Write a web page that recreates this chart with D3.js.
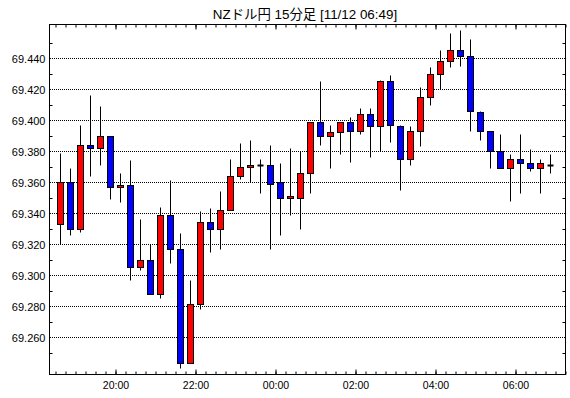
<!DOCTYPE html>
<html>
<head>
<meta charset="utf-8">
<script src="https://d3js.org/d3.v7.min.js"></script>
<style>
  body { margin: 0; background: #fff; }
  text { font-family: "Liberation Sans", "Noto Sans CJK JP", sans-serif; fill: #000; }
</style>
</head>
<body>
<svg id="chart" width="570" height="398"></svg>
<script>
// 15 minute candles, 11/11 18:30 -> 11/12 06:45
var firstBar = new Date(2024, 10, 11, 18, 30);
var opens  = [69.333,69.360,69.330,69.384,69.382,69.390,69.357,69.358,69.305,69.310,
              69.288,69.339,69.317,69.243,69.281,69.334,69.330,69.342,69.364,69.370,
              69.371,69.371,69.360,69.350,69.350,69.366,69.399,69.390,69.392,69.399,
              69.393,69.404,69.396,69.425,69.396,69.375,69.393,69.415,69.430,69.438,
              69.445,69.441,69.405,69.393,69.380,69.369,69.375,69.372,69.369,69.371];
var highs  = [69.379,69.369,69.397,69.416,69.409,69.390,69.366,69.374,69.336,69.320,
              69.344,69.361,69.327,69.297,69.341,69.343,69.354,69.375,69.385,69.387,
              69.375,69.384,69.372,69.382,69.380,69.399,69.425,69.397,69.399,69.402,
              69.408,69.408,69.426,69.429,69.397,69.396,69.421,69.434,69.445,69.456,
              69.458,69.452,69.406,69.393,69.391,69.378,69.391,69.381,69.375,69.378];
var lows   = [69.320,69.326,69.328,69.364,69.371,69.349,69.347,69.297,69.303,69.288,
              69.285,69.308,69.240,69.243,69.278,69.315,69.317,69.342,69.362,69.360,
              69.353,69.317,69.326,69.339,69.330,69.353,69.384,69.369,69.378,69.373,
              69.391,69.376,69.380,69.386,69.355,69.371,69.383,69.410,69.420,69.434,
              69.435,69.393,69.387,69.369,69.369,69.348,69.353,69.367,69.353,69.366];
var closes = [69.360,69.330,69.384,69.382,69.390,69.357,69.358,69.305,69.310,69.288,
              69.339,69.317,69.243,69.281,69.334,69.330,69.342,69.364,69.370,69.371,
              69.371,69.359,69.350,69.351,69.366,69.399,69.390,69.392,69.399,69.393,
              69.404,69.396,69.425,69.397,69.375,69.393,69.415,69.430,69.438,69.445,
              69.441,69.406,69.393,69.380,69.369,69.375,69.372,69.369,69.372,69.371];
var yLabels = [69.260,69.280,69.300,69.320,69.340,69.360,69.380,69.400,69.420,69.440];
var yMinor  = [69.250,69.270,69.290,69.310,69.330,69.350,69.370,69.390,69.410,69.430,69.450];
var title = "NZドル円 15分足 [11/12 06:49]";

var pLeft = 49.5, pRight = 565.5, pTop = 24.5, pBottom = 374.5;
var svg = d3.select("#chart");

var bars = opens.map(function(o, i) {
  return { t: d3.timeMinute.offset(firstBar, 15 * i), o: o, h: highs[i], l: lows[i], c: closes[i] };
});

// x: time, each bar drawn in the middle of its 15 min slot
var x = d3.scaleTime()
  .domain([new Date(2024, 10, 11, 18, 21), new Date(2024, 10, 12, 7, 15)])
  .range([pLeft, pRight]);
var y = d3.scaleLinear()
  .domain([69.23613, 69.46194])
  .range([pBottom, pTop]);

function cx(d) { return Math.round(x(d3.timeMinute.offset(d.t, 7.5)) - 0.5) + 0.5; }
function py(v) { return Math.round(y(v) - 0.5) + 0.5; }

// title
svg.append("text")
  .attr("x", 305).attr("y", 19)
  .attr("text-anchor", "middle")
  .style("font-size", "13.4px")
  .text(title);

// dotted grid (start on a whole pixel so the dots stay sharp)
svg.append("g").selectAll("line")
  .data(yLabels).enter().append("line")
  .attr("x1", pLeft + 0.5).attr("x2", pRight - 0.5)
  .attr("y1", function(d) { return py(d); })
  .attr("y2", function(d) { return py(d); })
  .attr("stroke", "#000").attr("stroke-dasharray", "1,1");

// minor y ticks, both sides, inward
var ym = svg.append("g");
yMinor.filter(function(d) { return y(d) > pTop + 1 && y(d) < pBottom - 1; }).forEach(function(d) {
  ym.append("line").attr("x1", pLeft).attr("x2", pLeft + 3).attr("y1", py(d)).attr("y2", py(d)).attr("stroke", "#000");
  ym.append("line").attr("x1", pRight - 3).attr("x2", pRight).attr("y1", py(d)).attr("y2", py(d)).attr("stroke", "#000");
});

// y labels
var yAxis = svg.append("g")
  .attr("transform", "translate(" + pLeft + ",0)")
  .call(d3.axisLeft(y).tickValues(yLabels).tickFormat(d3.format(".3f")).tickSize(0).tickPadding(4));
yAxis.select(".domain").remove();
yAxis.selectAll("text").style("font-size", "11px").attr("dy", "0.4em");

// x ticks: minor every 15 min, long every 2 hours, top and bottom inward
var xMinor = svg.append("g")
  .attr("transform", "translate(0," + pBottom + ")")
  .call(d3.axisBottom(x).ticks(d3.timeMinute.every(15)).tickSizeInner(-3).tickSizeOuter(0).tickFormat(""));
var xMinorTop = svg.append("g")
  .attr("transform", "translate(0," + pTop + ")")
  .call(d3.axisTop(x).ticks(d3.timeMinute.every(15)).tickSizeInner(-3).tickSizeOuter(0).tickFormat(""));
var xMajor = svg.append("g")
  .attr("transform", "translate(0," + pBottom + ")")
  .call(d3.axisBottom(x).ticks(d3.timeHour.every(2)).tickSizeInner(-5).tickSizeOuter(0)
    .tickFormat(d3.timeFormat("%H:%M")).tickPadding(7));
var xMajorTop = svg.append("g")
  .attr("transform", "translate(0," + pTop + ")")
  .call(d3.axisTop(x).ticks(d3.timeHour.every(2)).tickSizeInner(-5).tickSizeOuter(0).tickFormat(""));
[xMinor, xMinorTop, xMajor, xMajorTop].forEach(function(g) {
  g.select(".domain").remove();
  g.selectAll("line").attr("stroke", "#000");
});
xMajor.selectAll("text").style("font-size", "10.5px");

// frame
svg.append("rect")
  .attr("x", pLeft).attr("y", pTop)
  .attr("width", pRight - pLeft).attr("height", pBottom - pTop)
  .attr("fill", "none").attr("stroke", "#000");

// candles
var candles = svg.append("g").selectAll("g")
  .data(bars).enter().append("g");

candles.append("line")
  .attr("x1", cx).attr("x2", cx)
  .attr("y1", function(d) { return py(d.h); })
  .attr("y2", function(d) { return py(d.l); })
  .attr("stroke", "#000");

candles.filter(function(d) { return d.o !== d.c; })
  .append("rect")
  .attr("x", function(d) { return cx(d) - 3; })
  .attr("width", 6)
  .attr("y", function(d) { return py(Math.max(d.o, d.c)); })
  .attr("height", function(d) { return Math.max(1, py(Math.min(d.o, d.c)) - py(Math.max(d.o, d.c))); })
  .attr("fill", function(d) { return d.c > d.o ? "#ff0000" : "#0000ff"; })
  .attr("stroke", "#000");

candles.filter(function(d) { return d.o === d.c; })
  .append("line")
  .attr("x1", function(d) { return cx(d) - 3; })
  .attr("x2", function(d) { return cx(d) + 3; })
  .attr("y1", function(d) { return py(d.c); })
  .attr("y2", function(d) { return py(d.c); })
  .attr("stroke", "#000").attr("stroke-width", 2);
</script>
</body>
</html>
